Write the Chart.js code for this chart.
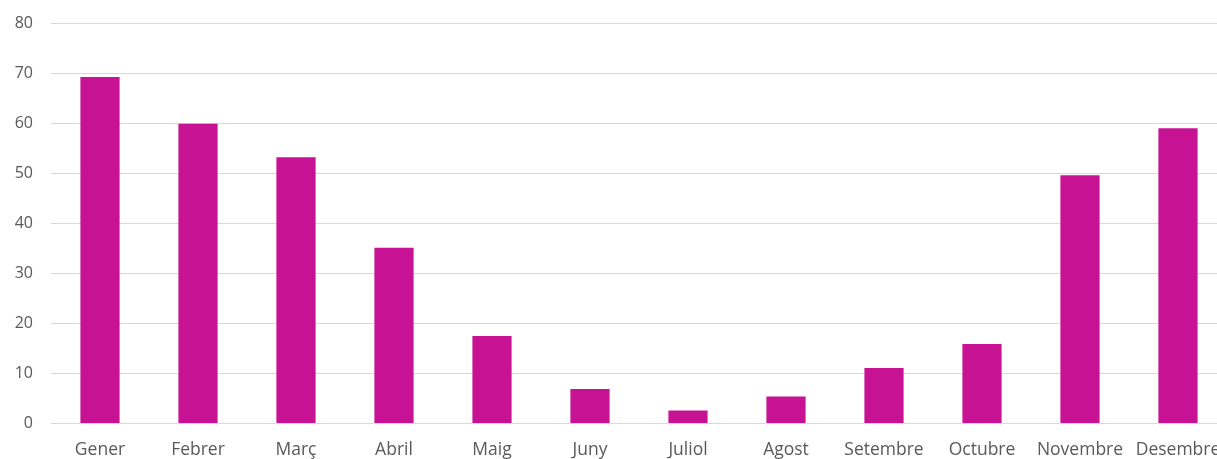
<!DOCTYPE html>
<html>
<head>
<meta charset="utf-8">
<script src="https://cdn.jsdelivr.net/npm/chart.js@4/dist/chart.umd.min.js"></script>
<style>
  html, body { margin: 0; padding: 0; background: #fff; overflow: hidden; }
  #wrap { width: 1227px; height: 459px; }
</style>
</head>
<body>
<div id="wrap"><canvas id="barChart"></canvas></div>
<script>
// months (Catalan) and monthly values
const months = ['Gener', 'Febrer', 'Març', 'Abril', 'Maig', 'Juny', 'Juliol', 'Agost', 'Setembre', 'Octubre', 'Novembre', 'Desembre']
const values = [69.2, 59.9, 53.2, 35.1, 17.5, 6.9, 2.6, 5.4, 11.1, 15.9, 49.6, 59.0]
const yTicks = [0, 10, 20, 30, 40, 50, 60, 70, 80]

const textColor = '#595959'
const gridColor = '#d9d9d9'
const barColor = '#c71393'

const data = {
    labels: months,
    datasets: [{
        data: values,
        backgroundColor: barColor,
        borderWidth: 0,
        barPercentage: 0.4,
        categoryPercentage: 1
    }]
}

const config = {
    type: 'bar',
    data: data,
    options: {
        responsive: true,
        maintainAspectRatio: false,
        animation: false,
        layout: { padding: { top: 23, right: 0, left: 0, bottom: 0 } },
        plugins: {
            legend: { display: false },
            tooltip: { enabled: false }
        },
        scales: {
            x: {
                grid: { display: false, drawTicks: false },
                border: { display: false },
                ticks: {
                    color: textColor,
                    font: { family: 'Open Sans', size: 17.5 },
                    padding: 16,
                    maxRotation: 0,
                    autoSkip: false
                },
                afterFit: function (axis) {
                    axis.height = 35.5
                    // let the last label run off the edge like the original
                    axis.paddingLeft = 0
                    axis.paddingRight = 0
                }
            },
            y: {
                min: 0,
                max: 80,
                afterBuildTicks: function (axis) {
                    axis.ticks = yTicks.map(v => ({ value: v }))
                },
                grid: { color: gridColor, lineWidth: 1, drawTicks: false },
                border: { display: false },
                ticks: {
                    color: textColor,
                    font: { family: 'Open Sans', size: 16 },
                    padding: 18
                },
                afterFit: function (axis) {
                    axis.width = 51
                    axis.paddingTop = 0
                    axis.paddingBottom = 0
                }
            }
        }
    }
}

new Chart(document.getElementById('barChart'), config)
</script>
</body>
</html>
